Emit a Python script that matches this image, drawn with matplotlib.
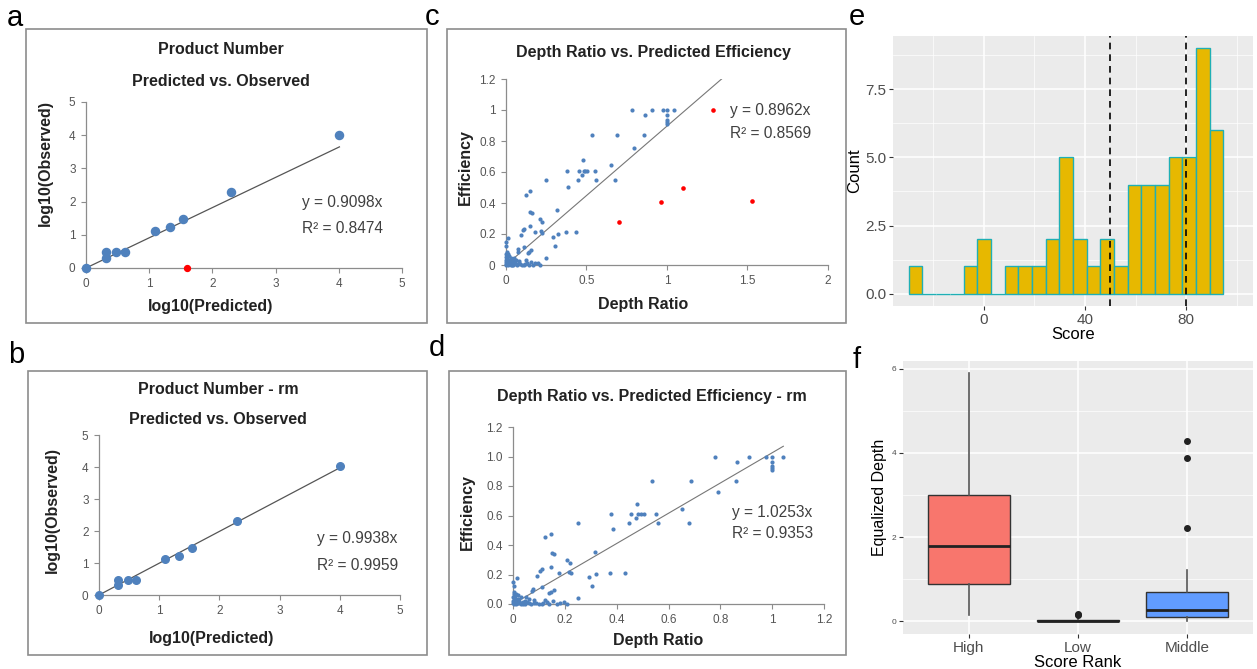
import numpy as np
import matplotlib.pyplot as plt
from matplotlib.patches import Rectangle
from matplotlib.ticker import MultipleLocator

plt.rcParams['font.family'] = ['Liberation Sans', 'DejaVu Sans']

W, H = 1257, 669

# panels a / b : log10 predicted vs observed
pred = [0.0, 0.31, 0.31, 0.48, 0.61, 1.09, 1.33, 1.54, 2.30, 4.01]
obs = [0.0, 0.30, 0.48, 0.48, 0.48, 1.11, 1.23, 1.47, 2.30, 4.02]
pred_out = [1.60]
obs_out = [0.0]
slope_a, r2_a = 0.9098, 0.8474
slope_b, r2_b = 0.9938, 0.9959

# panels c / d : depth ratio vs efficiency
ratio = [0.78, 0.863, 0.909, 0.976, 1.0, 1.0, 1.0, 1.0, 1.0, 1.043,
         0.859, 0.536, 0.687, 0.792, 0.651, 0.679,
         0.377, 0.455, 0.483, 0.492, 0.505, 0.552, 0.477, 0.473, 0.449, 0.558, 0.251, 0.387,
         0.122, 0.147, 0.152, 0.160, 0.318, 0.210, 0.221,
         0.091, 0.104, 0.112, 0.148, 0.179, 0.217, 0.225, 0.292, 0.320, 0.374, 0.432, 0.305,
         0.113, 0.076, 0.073, 0.145, 0.139, 0.157, 0.25, 0.014,
         0.0, 0.003, 0.004, 0.006, 0.009, 0.0, 0.002, 0.001, 0.003, 0.0, 0.002, 0.005, 0.01,
         0.02, 0.025, 0.03, 0.04, 0.046, 0.05, 0.063, 0.06, 0.07, 0.015, 0.03, 0.045, 0.02, 0.012,
         0.08, 0.09, 0.1, 0.117, 0.13, 0.14, 0.155, 0.168, 0.18, 0.198, 0.21, 0.125, 0.08, 0.112,
         0.035, 0.055, 0.018, 0.008, 0.028, 0.038]
effic = [1.0, 0.965, 1.0, 1.0, 1.0, 0.965, 0.936, 0.92, 0.908, 1.0,
         0.836, 0.836, 0.836, 0.757, 0.646, 0.551,
         0.608, 0.608, 0.608, 0.608, 0.608, 0.608, 0.676, 0.583, 0.551, 0.551, 0.547, 0.506,
         0.452, 0.475, 0.343, 0.337, 0.355, 0.298, 0.28,
         0.192, 0.226, 0.235, 0.253, 0.21, 0.219, 0.208, 0.181, 0.203, 0.212, 0.212, 0.124,
         0.118, 0.102, 0.086, 0.084, 0.077, 0.095, 0.043, 0.176,
         0.147, 0.124, 0.084, 0.061, 0.038, 0.02, 0.07, 0.05, 0.03, 0.005, 0.0, 0.01, 0.0,
         0.035, 0.02, 0.045, 0.016, 0.023, 0.045, 0.032, 0.005, 0.0, 0.01, 0.0, 0.0, 0.06, 0.07,
         0.01, 0.005, 0.0, 0.005, 0.015, 0.003, 0.018, 0.0, 0.01, 0.016, 0.0, 0.03, 0.025, 0.0,
         0.01, 0.012, 0.005, 0.025, 0.008, 0.003]
ratio_out = [0.702, 0.963, 1.099, 1.529, 1.285]
effic_out = [0.275, 0.408, 0.494, 0.414, 1.0]
slope_c, r2_c = 0.8962, 0.8569
slope_d, r2_d = 1.0253, 0.9353

# panel e : score histogram
bin_lo, bin_hi = -29.75, 94.8
counts = [1, 0, 0, 0, 1, 2, 0, 1, 1, 1, 2, 5, 2, 1, 2, 1, 4, 4, 4, 5, 5, 9, 6]
cutoffs = [50, 80]

# panel f : equalized depth by score rank
ranks = ['High', 'Low', 'Middle']
q1 = [0.89, 0.0, 0.10]
med = [1.79, 0.015, 0.28]
q3 = [2.99, 0.03, 0.69]
wlo = [0.14, 0.0, 0.02]
whi = [5.90, 0.05, 1.21]
fliers = [[], [0.15, 0.18], [2.21, 3.87, 4.27]]
rank_cols = ['#F8766D', '#00BA38', '#619CFF']

fig = plt.figure(figsize=(W / 100, H / 100), dpi=100)


def ax_px(x0, y0, x1, y1):
    return fig.add_axes([x0 / W, 1 - y1 / H, (x1 - x0) / W, (y1 - y0) / H])


def ftext(x, y, s, **kw):
    fig.text(x / W, 1 - y / H, s, **kw)


def frame(x0, y0, x1, y1):
    fig.patches.append(Rectangle((x0 / W, 1 - y1 / H), (x1 - x0) / W, (y1 - y0) / H,
                                 transform=fig.transFigure, fill=False,
                                 edgecolor='#8c8c8c', lw=1.2))


def excel_axes(ax):
    for s in ['top', 'right']:
        ax.spines[s].set_visible(False)
    for s in ['left', 'bottom']:
        ax.spines[s].set_color('#8c8c8c')
        ax.spines[s].set_linewidth(0.9)
    ax.tick_params(direction='out', length=3.5, width=0.8, color='#8c8c8c',
                   labelsize=8.5, labelcolor='#555555', pad=4)


blue = '#4F81BD'
bold = dict(fontweight='bold', fontsize=11.5, color='#222222')
eq = dict(fontsize=11.2, color='#404040', va='center')

# ---- panel a
frame(26, 29, 427, 323)
ax = ax_px(86, 102, 402, 268)
ax.scatter(pred, obs, s=34, color=blue, zorder=3, clip_on=False)
ax.scatter(pred_out, obs_out, s=18, color='red', zorder=3, clip_on=False)
xx = np.array([0, max(pred)])
ax.plot(xx, slope_a * xx, color='#555555', lw=0.9)
ax.set_xlim(0, 5)
ax.set_ylim(0, 5)
ax.set_xticks(range(6))
ax.set_yticks(range(6))
excel_axes(ax)
ftext(221, 50, 'Product Number', ha='center', va='center', **bold)
ftext(221, 82, 'Predicted vs. Observed', ha='center', va='center', **bold)
ftext(211, 306, 'log10(Predicted)', ha='center', va='center', **bold)
ftext(45, 163, 'log10(Observed)', ha='center', va='center', rotation=90, **bold)
ftext(302, 202, 'y = %.4fx' % slope_a, **eq)
ftext(302, 229, 'R² = %.4f' % r2_a, **eq)

# ---- panel b
frame(28, 371, 427, 655)
ax = ax_px(99, 435, 400, 595)
ax.scatter(pred, obs, s=30, color=blue, zorder=3, clip_on=False)
xx = np.array([0, max(pred)])
ax.plot(xx, slope_b * xx, color='#555555', lw=0.9)
ax.set_xlim(0, 5)
ax.set_ylim(0, 5)
ax.set_xticks(range(6))
ax.set_yticks(range(6))
excel_axes(ax)
ftext(218, 389, 'Product Number - rm', ha='center', va='center', **bold)
ftext(218, 419, 'Predicted vs. Observed', ha='center', va='center', **bold)
ftext(212, 639, 'log10(Predicted)', ha='center', va='center', **bold)
ftext(52, 510, 'log10(Observed)', ha='center', va='center', rotation=90, **bold)
ftext(317, 539, 'y = %.4fx' % slope_b, **eq)
ftext(317, 565, 'R² = %.4f' % r2_b, **eq)

# ---- panel c
frame(447, 29, 846, 323)
ax = ax_px(506, 79, 828, 265)
ax.scatter(ratio, effic, s=9, color=blue, zorder=3, clip_on=False, lw=0)
ax.scatter(ratio_out, effic_out, s=11, color='red', zorder=3, lw=0)
xx = np.array([0, max(ratio + ratio_out)])
ax.plot(xx, slope_c * xx, color='#777777', lw=0.8)
ax.set_xlim(0, 2)
ax.set_ylim(0, 1.2)
ax.set_xticks([0, 0.5, 1, 1.5, 2])
ax.set_xticklabels(['0', '0.5', '1', '1.5', '2'])
ax.set_yticks([0, 0.2, 0.4, 0.6, 0.8, 1.0, 1.2])
ax.set_yticklabels(['0', '0.2', '0.4', '0.6', '0.8', '1', '1.2'])
excel_axes(ax)
ftext(653, 52, 'Depth Ratio vs. Predicted Efficiency', ha='center', va='center', **bold)
ftext(643, 304, 'Depth Ratio', ha='center', va='center', **bold)
ftext(465, 167, 'Efficiency', ha='center', va='center', rotation=90, **bold)
ftext(730, 110, 'y = %.4fx' % slope_c, **eq)
ftext(730, 134, 'R² = %.4f' % r2_c, **eq)

# ---- panel d
frame(449, 371, 846, 655)
ax = ax_px(513, 427, 824, 604)
ax.scatter(ratio, effic, s=9, color=blue, zorder=3, clip_on=False, lw=0)
xx = np.array([0, max(ratio)])
ax.plot(xx, slope_d * xx, color='#777777', lw=0.8)
ax.set_xlim(0, 1.2)
ax.set_ylim(0, 1.2)
ax.set_xticks([0, 0.2, 0.4, 0.6, 0.8, 1.0, 1.2])
ax.set_xticklabels(['0', '0.2', '0.4', '0.6', '0.8', '1', '1.2'])
ax.set_yticks([0, 0.2, 0.4, 0.6, 0.8, 1.0, 1.2])
ax.set_yticklabels(['0.0', '0.2', '0.4', '0.6', '0.8', '1.0', '1.2'])
excel_axes(ax)
ftext(652, 397, 'Depth Ratio vs. Predicted Efficiency - rm', ha='center', va='center', **bold)
ftext(658, 641, 'Depth Ratio', ha='center', va='center', **bold)
ftext(467, 512, 'Efficiency', ha='center', va='center', rotation=90, **bold)
ftext(732, 512, 'y = %.4fx' % slope_d, **eq)
ftext(732, 534, 'R² = %.4f' % r2_d, **eq)


def gg_axes(ax):
    ax.set_facecolor('#EBEBEB')
    for s in ax.spines.values():
        s.set_visible(False)
    ax.grid(True, which='major', color='white', lw=1.1)
    ax.grid(True, which='minor', color='white', lw=0.5)
    ax.set_axisbelow(True)
    ax.tick_params(which='major', direction='out', length=3, width=0.8, color='#333333',
                   labelsize=11, labelcolor='#4D4D4D', pad=2)
    ax.tick_params(which='minor', length=0)


# ---- panel e
ax = ax_px(893, 36, 1253, 306)
edges = np.linspace(bin_lo, bin_hi, len(counts) + 1)
ax.bar(edges[:-1], counts, width=np.diff(edges), align='edge', color='#E7B800',
       edgecolor='#1FAFB5', lw=1.0, zorder=2)
for c in cutoffs:
    ax.axvline(c, color='black', ls=(0, (4, 3)), lw=1.2, zorder=3)
ax.set_xlim(-36, 106.5)
ax.set_ylim(-0.45, 9.45)
ax.xaxis.set_major_locator(MultipleLocator(40))
ax.xaxis.set_minor_locator(MultipleLocator(20))
ax.set_yticks([0, 2.5, 5, 7.5])
ax.set_yticklabels(['0.0', '2.5', '5.0', '7.5'])
ax.yaxis.set_minor_locator(MultipleLocator(1.25))
gg_axes(ax)
ax.set_xlabel('Score', fontsize=12, labelpad=0)
ax.set_ylabel('Count', fontsize=12, labelpad=2)

# ---- panel f
ax = ax_px(903, 361, 1253, 634)
stats = []
for i in range(3):
    stats.append(dict(med=med[i], q1=q1[i], q3=q3[i], whislo=wlo[i], whishi=whi[i],
                      fliers=fliers[i], label=ranks[i]))
bp = ax.bxp(stats, positions=[1, 2, 3], widths=0.75, patch_artist=True, showcaps=False,
            boxprops=dict(edgecolor='#333333', lw=1.0),
            medianprops=dict(color='#222222', lw=2.0),
            whiskerprops=dict(color='#555555', lw=1.2),
            flierprops=dict(marker='o', markerfacecolor='#222222', markeredgecolor='#222222',
                            markersize=4))
for patch, col in zip(bp['boxes'], rank_cols):
    patch.set_facecolor(col)
    patch.set_zorder(2)
ax.set_xlim(0.4, 3.6)
ax.set_ylim(-0.3, 6.18)
ax.set_yticks([0, 2, 4, 6])
ax.yaxis.set_minor_locator(MultipleLocator(1))
gg_axes(ax)
ax.tick_params(axis='y', labelsize=6)
ax.set_xlabel('Score Rank', fontsize=12, labelpad=0)
ax.set_ylabel('Equalized Depth', fontsize=11.5, labelpad=3)

# panel letters
for lab, x, y in [('a', 15, 18), ('b', 16, 355), ('c', 432, 17), ('d', 437, 348),
                  ('e', 857, 17), ('f', 857, 360)]:
    ftext(x, y, lab, fontsize=21, ha='center', va='center')

fig.savefig('out.png', dpi=100, facecolor='white')
